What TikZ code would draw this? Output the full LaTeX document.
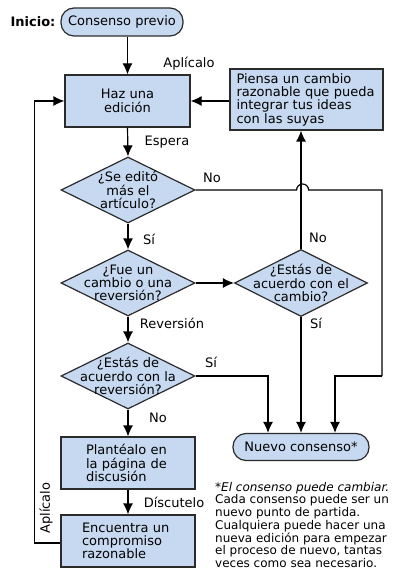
\documentclass[tikz,border=0pt]{standalone}
\usepackage{fontspec}
\setmainfont{DejaVu Sans}
\usetikzlibrary{arrows.meta,shapes.geometric}
\definecolor{boxfill}{HTML}{C6D9F0}
\definecolor{edgecol}{HTML}{2B2B2B}
\begin{document}
\begin{tikzpicture}[x=1pt,y=-1pt,
  every node/.style={font=\fontsize{13}{13.3}\selectfont},
  boxnode/.style={draw=edgecol,fill=boxfill,line width=1.2pt,rectangle,inner ysep=0pt},
  pill/.style={draw=edgecol,fill=boxfill,line width=1.2pt,rectangle,rounded corners=13pt,inner sep=0pt},
  dia/.style={draw=edgecol,fill=boxfill,line width=1.2pt,diamond,inner sep=0pt,minimum width=134pt,minimum height=66pt},
  dtext/.style={align=center,inner sep=0pt},
  arr/.style={line width=1.2pt,-{Latex[length=11pt,width=10pt]}},
  conn/.style={line width=1.2pt},
  lbl/.style={inner sep=0pt},
  foot/.style={font=\fontsize{12}{11.3}\selectfont,align=left,inner sep=0pt}
]
\useasboundingbox (0,0) rectangle (392,569);

% nodes
\node[lbl,font=\fontsize{13}{13.3}\selectfont\bfseries] (inicio) at (33,22) {Inicio:};
\node[pill,minimum width=122pt,minimum height=28pt] (prev) at (122,22) {Consenso previo};
\node[boxnode,minimum width=125pt,minimum height=52pt,align=center] (haz) at (127.5,101) {Haz una\\edición};
\node[boxnode,minimum width=153pt,minimum height=61pt,text width=140pt,inner xsep=6.5pt,align=left] (piensa) at (306.5,99.5) {Piensa un cambio\\razonable que pueda\\integrar tus ideas\\con las suyas};

\node[dia] (d1) at (128,190) {};
\node[dtext] (t1) at (d1) {¿Se editó\\más el\\artículo?};
\node[dia] (d2) at (128,283) {};
\node[dtext] (t2) at (d2) {¿Fue un\\cambio o una\\reversión?};
\node[dia] (d3) at (128,376) {};
\node[dtext] (t3) at (d3) {¿Estás de\\acuerdo con la\\reversión?};
\node[dia,minimum width=133pt,minimum height=67pt] (d4) at (301,283) {};
\node[dtext] (t4) at (d4) {¿Estás de\\acuerdo con el\\cambio?};

\node[boxnode,minimum width=134pt,minimum height=52pt,text width=84pt,inner xsep=25pt,align=left] (plant) at (128,463) {Plantéalo en\\la página de\\discusión};
\node[boxnode,minimum width=134pt,minimum height=52pt,text width=92pt,inner xsep=21pt,align=left] (encu) at (128,541) {Encuentra un\\compromiso\\razonable};

\node[pill,minimum width=136pt,minimum height=27pt] (nuevo) at (301,447) {Nuevo consenso*};

\node[foot,anchor=north west] (nota) at (215,482) {\textit{*El consenso puede cambiar.}\\Cada consenso puede ser un\\nuevo punto de partida.\\Cualquiera puede hacer una\\nueva edición para empezar\\el proceso de nuevo, tantas\\veces como sea necesario.};

% coordinates
\coordinate (rtop) at (382,190);
\coordinate (rbot) at (382,376);

% connectors
\draw[arr] (haz.north |- prev.south) -- (haz.north);
\draw[arr] (haz.south) -- (d1.north);
\draw[arr] (d1.south) -- (d2.north);
\draw[arr] (d2.south) -- (d3.north);
\draw[arr] (d3.south) -- (plant.north);
\draw[arr] (plant.south) -- (encu.north);
\draw[arr] ([yshift=-2pt]encu.west) -- ++(-26,0) |- (haz.west);
\draw[arr] (d2.east) -- (d4.west);
\draw[arr] (d4.north) -- (d4.north |- piensa.south);
\draw[arr] (haz.east -| piensa.west) -- (haz.east);
\draw[conn] (d1.east) -- ++(101,0) arc[start angle=180,end angle=360,radius=6] -- (rtop) -- (rbot);
\draw[arr] (rbot) -| ([xshift=34pt]nuevo.north);
\draw[arr] (d3.east) -| ([xshift=-33pt]nuevo.north);
\draw[arr] (d4.south) -- (nuevo.north);

% labels
\node[lbl] (l1) at (189,64) {Aplícalo};
\node[lbl] (l2) at (167,142) {Espera};
\node[lbl] (l3) at (212,178) {No};
\node[lbl] (l4) at (149,239) {Sí};
\node[lbl] (l5) at (318,238) {No};
\node[lbl] (l6) at (172,323) {Reversión};
\node[lbl] (l7) at (316,323) {Sí};
\node[lbl] (l8) at (211,362) {Sí};
\node[lbl] (l9) at (158,418) {No};
\node[lbl] (l10) at (174,502) {Díscutelo};
\node[lbl,rotate=90] (l11) at (46,508) {Aplícalo};
\end{tikzpicture}
\end{document}
